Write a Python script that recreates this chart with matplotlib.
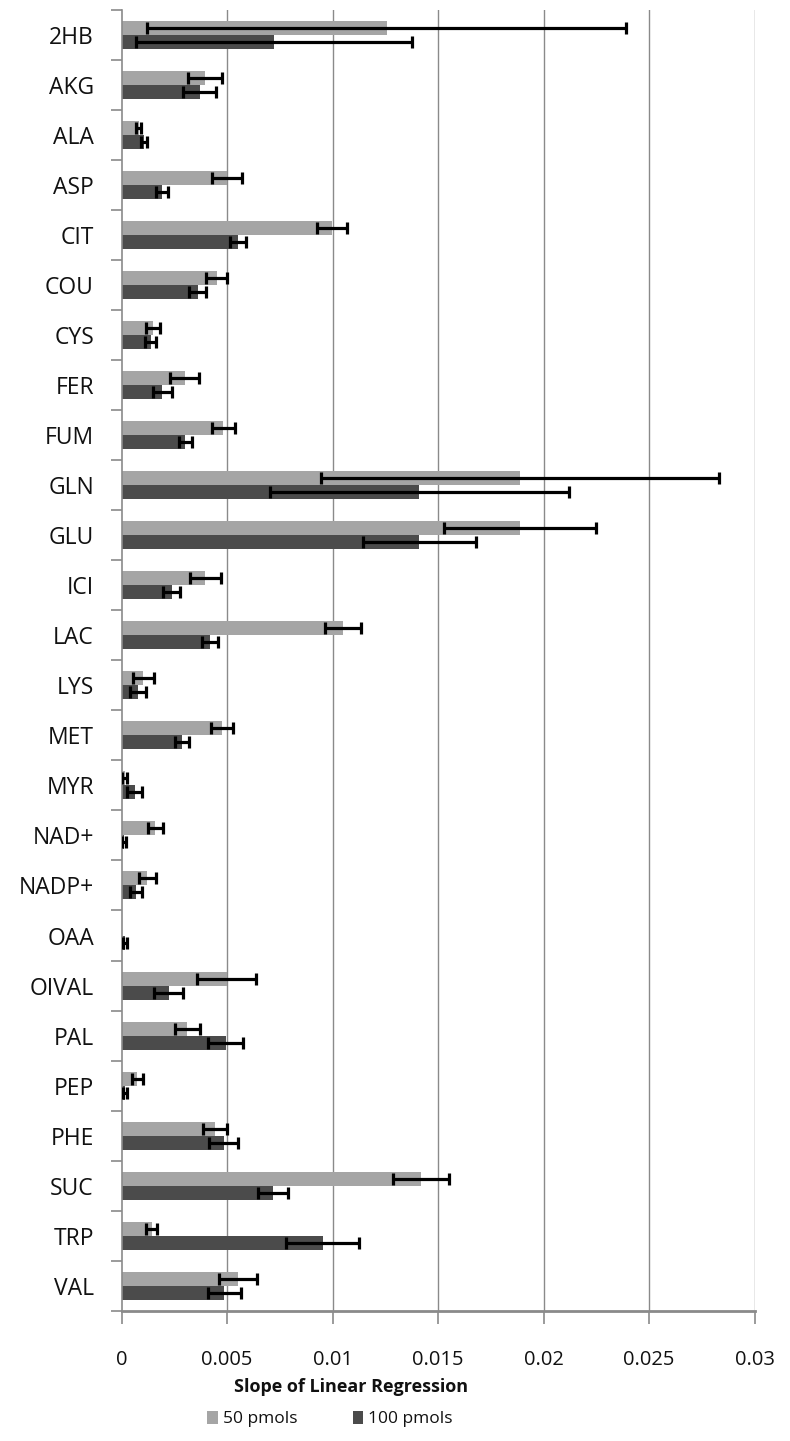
import matplotlib
matplotlib.use("Agg")
import matplotlib.pyplot as plt
import numpy as np
from matplotlib.patches import Patch

categories = ['2HB', 'AKG', 'ALA', 'ASP', 'CIT', 'COU', 'CYS', 'FER', 'FUM', 'GLN',
              'GLU', 'ICI', 'LAC', 'LYS', 'MET', 'MYR', 'NAD+', 'NADP+', 'OAA', 'OIVAL',
              'PAL', 'PEP', 'PHE', 'SUC', 'TRP', 'VAL']

p50 = [0.01257, 0.00395, 0.0008, 0.00499, 0.00998, 0.0045, 0.0015, 0.00298, 0.00482, 0.01888,
       0.01888, 0.00396, 0.01047, 0.00103, 0.00475, 0.00014, 0.0016, 0.00122, 0.0, 0.00497,
       0.00312, 0.00075, 0.00442, 0.01418, 0.00143, 0.0055]
e50 = [0.01135, 0.0008, 0.00012, 0.00071, 0.00071, 0.0005, 0.00033, 0.00068, 0.00056, 0.00943,
       0.00359, 0.00073, 0.00085, 0.00049, 0.00053, 0.00013, 0.00035, 0.00042, 0.0, 0.00142,
       0.00058, 0.00025, 0.00057, 0.00132, 0.00026, 0.00091]

p100 = [0.00722, 0.00371, 0.00106, 0.0019, 0.0055, 0.0036, 0.00137, 0.00193, 0.00302, 0.01411,
        0.0141, 0.00238, 0.00418, 0.00077, 0.00287, 0.00062, 0.0001, 0.00068, 0.00015, 0.00222,
        0.00493, 0.00015, 0.00484, 0.00718, 0.00953, 0.00487]
e100 = [0.00652, 0.00078, 0.00012, 0.00029, 0.00037, 0.00039, 0.00028, 0.00046, 0.00031, 0.00709,
        0.00268, 0.0004, 0.00038, 0.00036, 0.00032, 0.00036, 0.0001, 0.00028, 0.0001, 0.0007,
        0.00083, 0.0001, 0.00068, 0.0007, 0.00172, 0.00077]

xticks = [0, 0.005, 0.01, 0.015, 0.02, 0.025, 0.03]
xticklabels = ['0', '0.005', '0.01', '0.015', '0.02', '0.025', '0.03']
series_names = ['50 pmols', '100 pmols']

LIGHT = '#A5A5A5'
DARK = '#4B4B4B'
GRID = '#8A8A8A'
TXT = '#111111'
FONT = ['Open Sans', 'DejaVu Sans']

plt.rcParams['font.family'] = FONT

fig = plt.figure(figsize=(7.9, 14.41), dpi=100)
ax = fig.add_axes([0.154, 0.09042, 0.8013, 0.90264])

y = np.arange(len(categories))
h = 0.28
off = 0.14

ax.barh(y - off, p50, height=h, color=LIGHT, zorder=2)
ax.barh(y + off, p100, height=h, color=DARK, zorder=2)

p50a, e50a = np.array(p50), np.array(e50)
p100a, e100a = np.array(p100), np.array(e100)
m50 = e50a > 0
m100 = e100a > 0
ekw = dict(fmt='none', ecolor='black', elinewidth=2.3, capsize=4.3, capthick=2.3, zorder=3)
ax.errorbar(p50a[m50], (y - off)[m50], xerr=e50a[m50], **ekw)
ax.errorbar(p100a[m100], (y + off)[m100], xerr=e100a[m100], **ekw)

ax.set_xlim(0, 0.03)
ax.set_ylim(len(categories) - 0.5, -0.5)

for xv in xticks[1:]:
    ax.axvline(xv, color=GRID, lw=1.0, zorder=1)

ax.set_yticks(np.arange(len(categories) + 1) - 0.5)
ax.set_yticklabels([])
ax.set_yticks(y, minor=True)
ax.set_yticklabels(categories, minor=True, fontsize=16.5, color=TXT)
ax.tick_params(axis='y', which='major', length=8, width=1.2, color=GRID, direction='out')
ax.tick_params(axis='y', which='minor', length=0, pad=20)

ax.set_xticks(xticks)
ax.set_xticklabels(xticklabels, fontsize=14.5, color=TXT)
ax.tick_params(axis='x', which='major', length=9, width=1.2, color=GRID, direction='out', pad=19)

for s in ['top', 'right']:
    ax.spines[s].set_visible(False)
ax.spines['left'].set_color(GRID)
ax.spines['left'].set_linewidth(1.2)
ax.spines['bottom'].set_color(GRID)
ax.spines['bottom'].set_linewidth(2.0)

fig.text(351 / 790, 1 - 1387 / 1441, 'Slope of Linear Regression', ha='center', va='center',
         fontsize=13, fontweight='bold', color=TXT)

handles = [Patch(facecolor=LIGHT), Patch(facecolor=DARK)]
fig.legend(handles, series_names, loc='center', bbox_to_anchor=(330 / 790, 1 - 1419 / 1441),
           ncol=2, frameon=False, prop={'size': 12.5}, handlelength=0.6,
           handleheight=0.85, handletextpad=0.3, columnspacing=3.2, borderaxespad=0,
           labelcolor=TXT)

fig.savefig('out.png', dpi=100)
